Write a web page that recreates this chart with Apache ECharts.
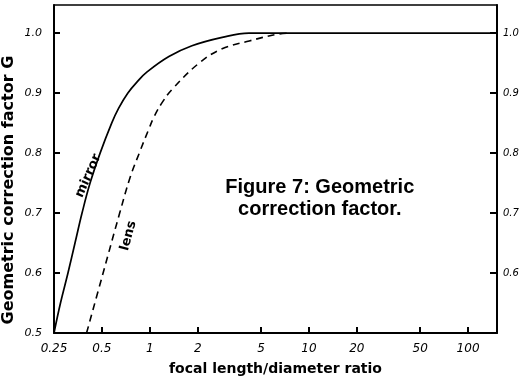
<!DOCTYPE html>
<html>
<head>
<meta charset="utf-8">
<script src="https://cdn.jsdelivr.net/npm/echarts@6/dist/echarts.min.js"></script>
<style>
html,body{margin:0;padding:0;background:#fff;}
#chart{width:528px;height:381px;}
</style>
</head>
<body>
<div id="chart"></div>
<script>
// ---- data ----
const xTicks = [0.25, 0.5, 1, 2, 5, 10, 20, 50, 100];
const xTickLabels = ['0.25', '0.5', '1', '2', '5', '10', '20', '50', '100'];
const yTicks = [0.5, 0.6, 0.7, 0.8, 0.9, 1.0];
const yTickLabels = ['0.5', '0.6', '0.7', '0.8', '0.9', '1.0'];
const yRightTicks = [0.6, 0.7, 0.8, 0.9, 1.0];

const mirrorRatio = [0.25, 0.2746, 0.306, 0.3388, 0.3751, 0.4213, 0.4872, 0.576, 0.6374, 0.7265, 0.840, 0.9573, 1.318, 1.84, 2.85, 4.2, 152];
const mirrorG     = [0.50, 0.55,   0.60,  0.65,   0.70,   0.75,   0.80,   0.85,  0.875,  0.90,   0.92,  0.935,  0.961, 0.979, 0.993, 1.0, 1.0];

const lensRatio = [0.4005, 0.5088, 0.6467, 0.7533, 0.8586, 0.9856, 1.07, 1.20, 1.377, 2.038, 2.847, 4.213, 6.237, 7.53];
const lensG     = [0.50,   0.60,   0.70,   0.76,   0.80,   0.84,   0.862, 0.885, 0.906, 0.95,  0.974, 0.987, 0.998, 1.0];

const xMin = 0.25, xMax = 152, yMin = 0.5, yMax = 1.047;

const xTitle = 'focal length/diameter ratio';
const yTitle = 'Geometric correction factor G';
const figTitle = 'Figure 7: Geometric\ncorrection factor.';
const mirrorLabel = { text: 'mirror', ratio: 0.41, g: 0.762 };
const lensLabel = { text: 'lens', ratio: 0.735, g: 0.662 };

// ---- chart ----
const lg = v => Math.log10(v);
const toPairs = (xs, ys) => xs.map((x, i) => [lg(x), ys[i]]);
const labelFont = { fontFamily: 'DejaVu Sans', fontStyle: 'italic', fontSize: 11, color: '#000' };
const lineBlack = { color: '#000', width: 2 };

const chart = echarts.init(document.getElementById('chart'), null, { renderer: 'canvas' });

const option = {
  animation: false,
  backgroundColor: '#fff',
  grid: { left: 54, right: 31, top: 5, bottom: 40, containLabel: false },
  xAxis: [
    {
      type: 'value', position: 'bottom', min: lg(xMin), max: lg(xMax),
      name: xTitle, nameLocation: 'middle', nameGap: 29,
      nameTextStyle: { fontFamily: 'DejaVu Sans', fontWeight: 'bold', fontSize: 14, color: '#000' },
      axisLine: { onZero: false, lineStyle: lineBlack },
      axisTick: { inside: true, length: 6, lineStyle: lineBlack, customValues: xTicks.map(lg) },
      axisLabel: Object.assign({}, labelFont, {
        margin: 10, fontSize: 12,
        customValues: xTicks.map(lg),
        formatter: v => {
          const i = xTicks.findIndex(t => Math.abs(lg(t) - v) < 1e-6);
          return i >= 0 ? xTickLabels[i] : '';
        }
      }),
      splitLine: { show: false }
    },
    {
      type: 'value', position: 'top', min: lg(xMin), max: lg(xMax),
      axisLine: { onZero: false, lineStyle: { color: '#000', width: 1.5 } },
      axisTick: { show: false }, axisLabel: { show: false }, splitLine: { show: false }
    }
  ],
  yAxis: [
    {
      type: 'value', position: 'left', min: yMin, max: yMax,
      axisLine: { show: true, onZero: false, lineStyle: lineBlack },
      axisTick: { show: true, inside: true, length: 6, lineStyle: lineBlack, customValues: yTicks },
      axisLabel: Object.assign({}, labelFont, {
        margin: 12,
        customValues: yTicks,
        formatter: v => {
          const i = yTicks.findIndex(t => Math.abs(t - v) < 1e-6);
          return i >= 0 ? yTickLabels[i] : '';
        }
      }),
      splitLine: { show: false }
    },
    {
      type: 'value', position: 'right', min: yMin, max: yMax,
      axisLine: { show: true, onZero: false, lineStyle: lineBlack },
      axisTick: { show: true, inside: true, length: 7, lineStyle: lineBlack, customValues: yRightTicks },
      axisLabel: Object.assign({}, labelFont, {
        margin: 6, fontSize: 10,
        customValues: yRightTicks,
        formatter: v => {
          const i = yTicks.findIndex(t => Math.abs(t - v) < 1e-6);
          return i >= 0 ? yTickLabels[i] : '';
        }
      }),
      splitLine: { show: false }
    }
  ],
  series: [
    {
      name: 'mirror', type: 'line', xAxisIndex: 0, yAxisIndex: 0,
      data: toPairs(mirrorRatio, mirrorG),
      smooth: 0.4, showSymbol: false, symbol: 'none',
      lineStyle: { color: '#000', width: 1.7 }
    },
    {
      name: 'lens', type: 'line', xAxisIndex: 0, yAxisIndex: 0,
      data: toPairs(lensRatio, lensG),
      smooth: 0.4, showSymbol: false, symbol: 'none',
      lineStyle: { color: '#000', width: 1.6, type: [7, 5] }
    }
  ]
};
chart.setOption(option);

function placeAnnotations() {
  const grid = chart.getModel().getComponent('grid').coordinateSystem.getRect();
  const pm = chart.convertToPixel({ xAxisIndex: 0, yAxisIndex: 0 }, [lg(mirrorLabel.ratio), mirrorLabel.g]);
  const pl = chart.convertToPixel({ xAxisIndex: 0, yAxisIndex: 0 }, [lg(lensLabel.ratio), lensLabel.g]);
  const ySpanMid = chart.convertToPixel({ yAxisIndex: 0 }, 0.7);
  chart.setOption({
    graphic: [
      {
        type: 'text', x: 9, y: ySpanMid - 23, rotation: Math.PI / 2,
        style: { text: yTitle, fontFamily: 'DejaVu Sans', fontWeight: 'bold', fontSize: 16,
                 fill: '#000', align: 'center', verticalAlign: 'middle' }
      },
      {
        type: 'text', x: pm[0], y: pm[1], rotation: 66 * Math.PI / 180,
        style: { text: mirrorLabel.text, fontFamily: 'DejaVu Sans', fontWeight: 'bold', fontSize: 13,
                 fill: '#000', align: 'center', verticalAlign: 'middle' }
      },
      {
        type: 'text', x: pl[0], y: pl[1], rotation: 75 * Math.PI / 180,
        style: { text: lensLabel.text, fontFamily: 'DejaVu Sans', fontWeight: 'bold', fontSize: 13,
                 fill: '#000', align: 'center', verticalAlign: 'middle' }
      },
      {
        type: 'text', x: grid.x + grid.width * 0.6, y: grid.y + grid.height * 0.59,
        style: { text: figTitle, fontFamily: 'Liberation Sans', fontWeight: 'bold', fontSize: 20,
                 lineHeight: 22, fill: '#000', align: 'center', verticalAlign: 'middle' }
      }
    ]
  });
}
placeAnnotations();
</script>
</body>
</html>
